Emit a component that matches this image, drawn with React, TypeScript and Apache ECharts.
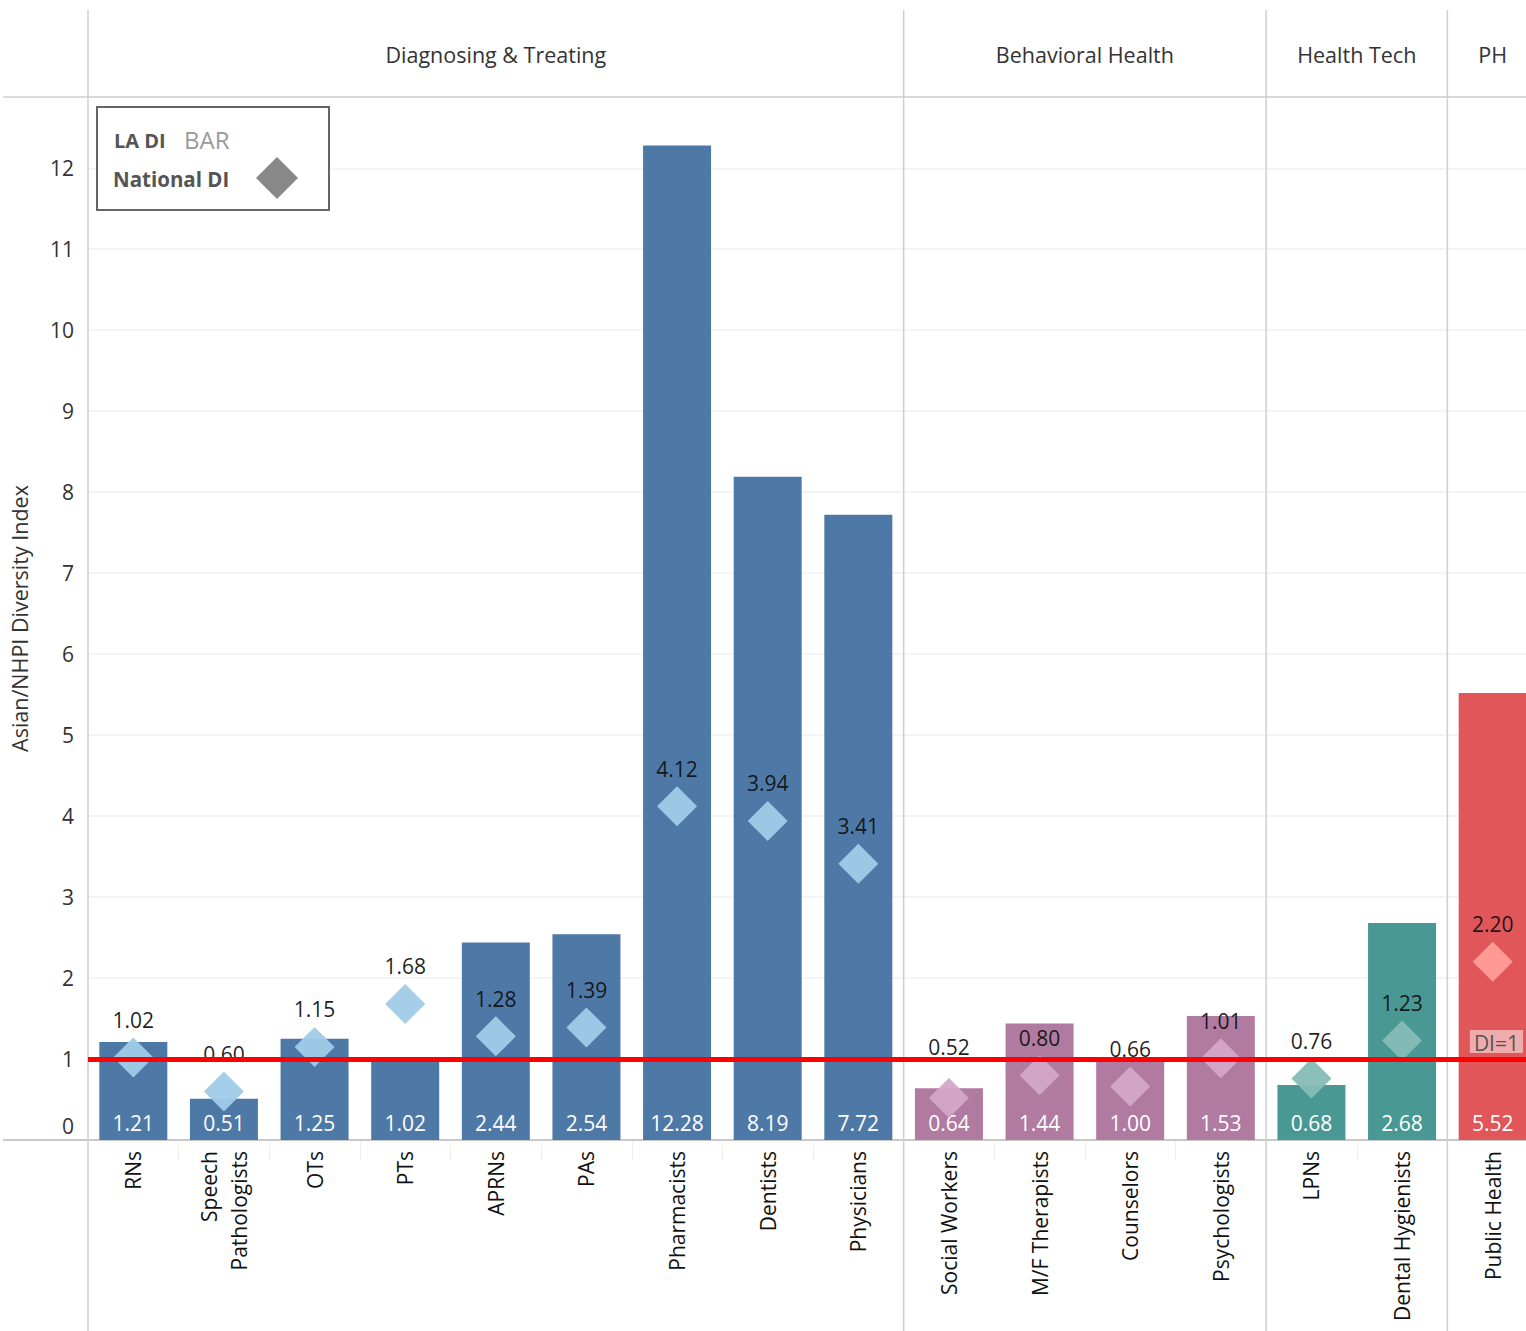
import React, { useEffect, useRef } from "react";
import * as echarts from "echarts";

const categories = [
  "RNs", "Speech\nPathologists", "OTs", "PTs", "APRNs", "PAs", "Pharmacists", "Dentists", "Physicians",
  "Social Workers", "M/F Therapists", "Counselors", "Psychologists",
  "LPNs", "Dental Hygienists",
  "Public Health",
];
const laDI = [1.21, 0.51, 1.25, 1.02, 2.44, 2.54, 12.28, 8.19, 7.72, 0.64, 1.44, 1.0, 1.53, 0.68, 2.68, 5.52];
const nationalDI = [1.02, 0.6, 1.15, 1.68, 1.28, 1.39, 4.12, 3.94, 3.41, 0.52, 0.8, 0.66, 1.01, 0.76, 1.23, 2.2];
const groupNames = ["Diagnosing & Treating", "Behavioral Health", "Health Tech", "PH"];
const groupSizes = [9, 4, 2, 1];
const barColors = ["#4e79a7", "#b07aa1", "#499894", "#e15759"];
const diamondColors = ["#a0cbe8", "#d4a6c8", "#86bcb6", "#ff9d9a"];
const refValue = 1;
const yTicks = { min: 0, max: 12.88, interval: 1 };

const FONT = "'Open Sans', 'Noto Sans', sans-serif";

export default function App() {
  const ref = useRef<HTMLDivElement>(null);
  useEffect(() => {
    const el = ref.current!;
    const chart = echarts.init(el, null, { renderer: "svg" });
    const W = 1526, H = 1331;
    const gLeft = 88, gTop = 97, gBottom = 1140;
    const gWidth = 1450;
    const catW = gWidth / categories.length;

    const groupOf: number[] = [];
    groupSizes.forEach((n, gi) => { for (let i = 0; i < n; i++) groupOf.push(gi); });

    const graphics: any[] = [];
    graphics.push({ type: "line", shape: { x1: 3, y1: gTop, x2: W, y2: gTop }, style: { stroke: "#cfcfcf", lineWidth: 1.5 }, z: 1 });
    graphics.push({ type: "line", shape: { x1: 3, y1: gBottom, x2: W, y2: gBottom }, style: { stroke: "#c8c8c8", lineWidth: 2 }, z: 1 });
    let start = 0;
    const bounds: number[] = [0];
    groupSizes.forEach((n) => { start += n; bounds.push(start); });
    bounds.forEach((b) => {
      if (b >= categories.length) return;
      const x = gLeft + b * catW;
      graphics.push({ type: "line", shape: { x1: x, y1: 10, x2: x, y2: H }, style: { stroke: "#cfcfcf", lineWidth: 1.5 }, z: 1 });
    });
    groupNames.forEach((name, gi) => {
      const x0 = gLeft + bounds[gi] * catW;
      const x1 = Math.min(gLeft + bounds[gi + 1] * catW, W + 12);
      graphics.push({
        type: "text",
        x: (x0 + x1) / 2,
        y: 54,
        style: { text: name, fontSize: 21.5, fontFamily: FONT, fill: "#333", align: "center", verticalAlign: "middle" },
        z: 5,
      });
    });
    // legend box
    graphics.push({ type: "rect", shape: { x: 97, y: 107, width: 232, height: 103 }, style: { fill: "#fff", stroke: "#666", lineWidth: 2 }, z: 30 });
    graphics.push({ type: "text", x: 114, y: 140, style: { text: "LA DI", fontSize: 20, fontWeight: "bold", fontFamily: FONT, fill: "#555", verticalAlign: "middle" }, z: 31 });
    graphics.push({ type: "text", x: 184, y: 139, style: { text: "BAR", fontSize: 24, fontFamily: FONT, fill: "#9a9a9a", verticalAlign: "middle" }, z: 31 });
    graphics.push({ type: "text", x: 113, y: 179, style: { text: "National DI", fontSize: 20.5, fontWeight: "bold", fontFamily: FONT, fill: "#555", verticalAlign: "middle" }, z: 31 });
    graphics.push({ type: "polygon", shape: { points: [[277, 157], [298, 178], [277, 199], [256, 178]] }, style: { fill: "#888" }, z: 31 });

    chart.setOption({
      animation: false,
      textStyle: { fontFamily: FONT },
      grid: { left: gLeft, top: gTop, width: gWidth, height: gBottom - gTop, containLabel: false, outerBoundsMode: "none" },
      xAxis: {
        type: "category",
        data: categories,
        axisLine: { show: false },
        axisTick: { show: true, length: 20, lineStyle: { color: "#eeeeee" } },
        axisLabel: { rotate: 90, fontSize: 21, color: "#111", margin: 11, fontFamily: FONT, lineHeight: 30 },
        splitLine: { show: false },
      },
      yAxis: {
        type: "value",
        min: yTicks.min,
        max: yTicks.max,
        interval: yTicks.interval,
        name: "Asian/NHPI Diversity Index",
        nameLocation: "middle",
        nameGap: 58,
        nameTextStyle: { fontSize: 21.5, color: "#333", fontFamily: FONT },
        axisLine: { show: false },
        axisTick: { show: false },
        axisLabel: {
          fontSize: 21, color: "#333", margin: 14, showMaxLabel: false, fontFamily: FONT,
          formatter: (v: number) => (v === 0 ? "{z|0}" : String(v)),
          rich: { z: { fontSize: 21, color: "#333", padding: [0, 0, 28, 0], fontFamily: FONT } },
        },
        splitLine: { show: true, lineStyle: { color: "#f0f0f0", width: 1.5 } },
      },
      graphic: graphics,
      series: [
        {
          type: "bar",
          barWidth: 68,
          data: laDI.map((v, i) => ({ value: v, itemStyle: { color: barColors[groupOf[i]] } })),
          label: {
            show: true,
            position: "insideBottom",
            distance: 7,
            color: "#fff",
            fontSize: 21,
            fontFamily: FONT,
            formatter: (p: any) => Number(p.value).toFixed(2),
          },
          z: 2,
        },
        {
          type: "scatter",
          symbol: "diamond",
          symbolSize: [40, 40],
          data: nationalDI.map((v, i) => {
            const item: any = { value: v, itemStyle: { color: diamondColors[groupOf[i]], opacity: 0.95 } };
            if (categories[i] === "Social Workers") item.label = { distance: 20 };
            return item;
          }),
          label: {
            show: true,
            position: "top",
            distance: 7,
            color: "#111",
            fontSize: 21,
            fontFamily: FONT,
            formatter: (p: any) => Number(p.value).toFixed(2),
          },
          z: 3,
        },
        {
          type: "line",
          data: [],
          z: 20,
          markLine: {
            silent: true,
            symbol: "none",
            data: [{ yAxis: refValue }],
            lineStyle: { color: "#ff0000", width: 5, type: "solid" },
            label: {
              show: true,
              position: "insideEndTop",
              formatter: "DI=1",
              color: "#555",
              fontSize: 21,
              fontFamily: FONT,
              backgroundColor: "rgba(255,255,255,0.5)",
              padding: [2, 4, 0, 4],
              distance: [15, 6],
            },
          },
        },
      ],
    });
    return () => chart.dispose();
  }, []);
  return (
    <div
      ref={ref}
      style={{ position: "fixed", left: 0, top: 0, width: 1526, height: 1331, background: "#fff", overflow: "hidden" }}
    />
  );
}
